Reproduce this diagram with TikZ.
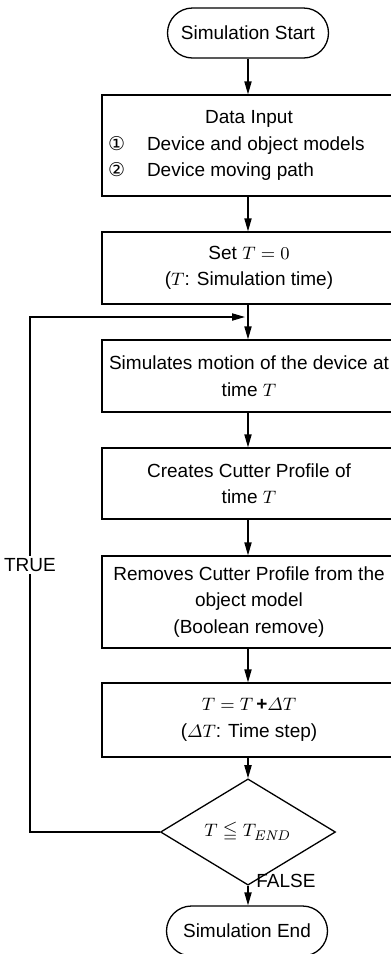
\documentclass[tikz,border=0pt]{standalone}
\usepackage{amsmath,amssymb}
\usepackage[no-math]{fontspec}
\setmainfont{Liberation Sans}
\newfontfamily\circfont{DejaVu Sans}
\usetikzlibrary{shapes.geometric, positioning, arrows.meta, calc}

\newcommand\chartfont{\fontsize{9.5}{13.25}\selectfont}

\begin{document}
\begin{tikzpicture}[x=0.5pt, y=-0.5pt,
    box/.style={draw, rectangle, line width=0.65pt, inner xsep=1pt, text width=145pt, align=flush center, font=\chartfont},
    term/.style={draw, rectangle, rounded corners=12.5pt, line width=0.65pt, minimum width=80.5pt, minimum height=25pt, font=\chartfont},
    cond/.style={draw, diamond, line width=0.65pt, inner sep=0pt, minimum width=87.5pt, minimum height=39.5pt, font=\chartfont},
    lbl/.style={font=\chartfont, inner sep=1pt},
    arr/.style={-{Triangle[length=6.5pt, width=3.6pt]}, line width=0.65pt}
]
    \useasboundingbox (0,0) rectangle (391,954);

    % --- Start and input ---
    \node[term] (start) at (248, 33) {Simulation Start};
    \node[box, minimum height=50.5pt] (din) at (249, 145.5) {Data Input\\
        \hspace*{2pt}\makebox[19.5pt][l]{\circfont ①}Device and object models\hfill\null\\
        \hspace*{2pt}\makebox[19.5pt][l]{\circfont ②}Device moving path\hfill\null};
    \node[box, minimum height=36pt] (sett) at (249, 268) {Set $T = 0$\\($T$: Simulation time)};

    % --- Loop body ---
    \node[box, minimum height=36pt] (sim) at (249, 376) {Simulates motion of the device at\\time $T$};
    \node[box, minimum height=35.5pt] (cut) at (249, 483.5) {Creates Cutter Profile of\\time $T$};
    \node[box, minimum height=46pt] (rem) at (249, 602) {Removes Cutter Profile from the\\object model\\(Boolean remove)};
    \node[box, minimum height=37pt] (inc) at (249, 720) {$T = T\,\textbf{+}\varDelta T$\\($\varDelta T$: Time step)};

    % --- Check and end ---
    \node[cond] (chk) at (248, 832) {$T \leqq T_{\mathit{END}}$};
    \node[term] (stop) at (247, 931) {Simulation End};

    % Main flow
    \draw[arr] (start) -- (start |- din.north);
    \draw[arr] (din.south -| start) -- (start |- sett.north);
    \draw[arr] (sett.south -| start) -- (start |- sim.north);
    \draw[arr] (sim.south -| start) -- (start |- cut.north);
    \draw[arr] (cut.south -| start) -- (start |- rem.north);
    \draw[arr] (rem.south -| start) -- (start |- inc.north);
    \draw[arr] (inc.south -| start) -- (chk.north);
    \draw[arr] (chk.south) -- (chk.south |- stop.north);

    % Back edge while T <= T_END
    \coordinate (jn) at (248, 317);
    \coordinate (lp) at (30, 317);
    \draw[arr] (chk.west) -| (lp) -- ($(jn)+(-3,0)$);
    \node[lbl, fill=white] (tlab) at (30, 565) {TRUE};
    \node[lbl, anchor=west] (flab) at (254, 881) {FALSE};

\end{tikzpicture}
\end{document}
